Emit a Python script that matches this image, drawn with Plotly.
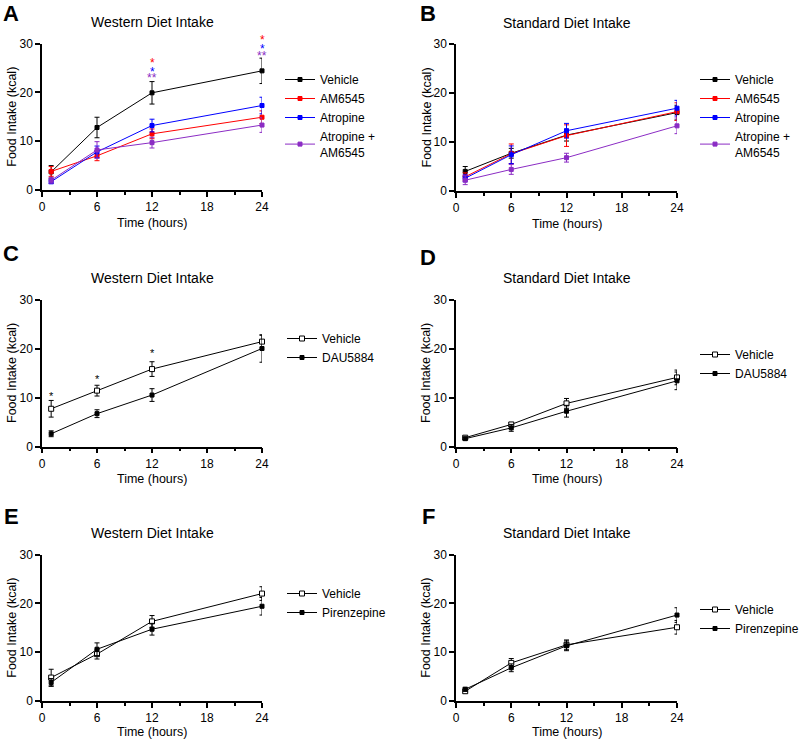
import plotly.graph_objects as go

W, H = 800, 741
FONT = 'Liberation Sans, Arial, sans-serif'

hours = [1, 6, 12, 24]
x_ticks = [0, 6, 12, 18, 24]
x_minor = [3, 9, 15, 21]
y_ticks = [0, 10, 20, 30]
y_max = 30

# A: western diet, vehicle vs blockers
a_names = ['Vehicle', 'AM6545', 'Atropine', 'Atropine +<br>AM6545']
a_vehicle = [3.7, 12.8, 19.9, 24.4]
a_am6545 = [3.8, 7.0, 11.5, 14.9]
a_atropine = [1.7, 7.8, 13.2, 17.3]
a_combo = [2.0, 8.2, 9.7, 13.3]
a_vehicle_err = [1.3, 2.1, 2.3, 2.6]
a_am6545_err = [1.0, 1.0, 1.0, 1.3]
a_atropine_err = [0.4, 1.2, 1.3, 1.7]
a_combo_err = [0.6, 1.7, 1.1, 1.5]

# B: standard diet, same groups
b_vehicle = [4.0, 7.7, 11.4, 16.0]
b_am6545 = [2.9, 7.6, 11.3, 16.2]
b_atropine = [2.6, 7.4, 12.3, 16.9]
b_combo = [2.2, 4.4, 6.8, 13.3]
b_vehicle_err = [1.0, 1.0, 1.2, 1.5]
b_am6545_err = [0.8, 2.0, 2.2, 1.8]
b_atropine_err = [0.7, 1.8, 1.5, 1.6]
b_combo_err = [0.9, 1.0, 0.9, 1.6]

# C / D: DAU5884
c_vehicle = [7.7, 11.4, 15.8, 21.4]
c_dau = [2.6, 6.7, 10.5, 20.0]
c_vehicle_err = [1.7, 1.1, 1.5, 1.3]
c_dau_err = [0.6, 0.8, 1.3, 2.8]
d_vehicle = [1.8, 4.5, 8.8, 14.1]
d_dau = [1.6, 3.8, 7.2, 13.4]
d_vehicle_err = [0.3, 0.4, 1.0, 1.5]
d_dau_err = [0.2, 0.7, 1.2, 1.8]

# E / F: pirenzepine
e_vehicle = [4.8, 9.6, 16.3, 22.0]
e_pir = [3.8, 10.6, 14.7, 19.4]
e_vehicle_err = [1.7, 1.0, 1.2, 1.4]
e_pir_err = [0.8, 1.3, 1.2, 1.8]
f_vehicle = [2.0, 7.8, 11.5, 15.1]
f_pir = [2.4, 6.8, 11.3, 17.6]
f_vehicle_err = [0.4, 0.9, 1.0, 1.4]
f_pir_err = [0.4, 0.8, 1.0, 1.5]

# significance marks
a_star_x = [12, 12, 12, 24, 24, 24]
a_star_y = [26.7, 24.8, 23.5, 31.3, 29.5, 28.0]
a_star_text = ['*', '*', '**', '*', '*', '**']
c_star_x = [1, 6, 12]
c_star_y = [10.9, 14.4, 19.7]

BLACK, RED, BLUE, PURPLE = '#000000', '#ff0000', '#0000ff', '#8b2cc4'
a_star_color = [RED, BLUE, PURPLE, RED, BLUE, PURPLE]
four_colors = [BLACK, RED, BLUE, PURPLE]

panels = [
    dict(letter='A', title='Western Diet Intake', box=(42, 43.5, 262, 190), letter_xy=(11, 14),
         series=list(zip(a_names, [a_vehicle, a_am6545, a_atropine, a_combo],
                         [a_vehicle_err, a_am6545_err, a_atropine_err, a_combo_err], four_colors,
                         [True] * 4)),
         legend_xy=(280, 116)),
    dict(letter='B', title='Standard Diet Intake', box=(456, 44, 677, 191), letter_xy=(428, 14),
         series=list(zip(a_names, [b_vehicle, b_am6545, b_atropine, b_combo],
                         [b_vehicle_err, b_am6545_err, b_atropine_err, b_combo_err], four_colors,
                         [True] * 4)),
         legend_xy=(695, 116)),
    dict(letter='C', title='Western Diet Intake', box=(42, 299.5, 262, 446.5), letter_xy=(11, 253),
         series=[('Vehicle', c_vehicle, c_vehicle_err, BLACK, False),
                 ('DAU5884', c_dau, c_dau_err, BLACK, True)],
         legend_xy=(282, 348)),
    dict(letter='D', title='Standard Diet Intake', box=(456, 299.5, 677, 446.5), letter_xy=(428, 258),
         series=[('Vehicle', d_vehicle, d_vehicle_err, BLACK, False),
                 ('DAU5884', d_dau, d_dau_err, BLACK, True)],
         legend_xy=(695, 364)),
    dict(letter='E', title='Western Diet Intake', box=(42, 554.5, 262, 701), letter_xy=(11, 516),
         series=[('Vehicle', e_vehicle, e_vehicle_err, BLACK, False),
                 ('Pirenzepine', e_pir, e_pir_err, BLACK, True)],
         legend_xy=(282, 603)),
    dict(letter='F', title='Standard Diet Intake', box=(456, 554.5, 677, 701), letter_xy=(428, 516),
         series=[('Vehicle', f_vehicle, f_vehicle_err, BLACK, False),
                 ('Pirenzepine', f_pir, f_pir_err, BLACK, True)],
         legend_xy=(695, 619)),
]


def px_x(v):
    return v / W


def px_y(v):
    return 1 - v / H


fig = go.Figure()
layout = dict(width=W, height=H, margin=dict(l=0, r=0, t=0, b=0, autoexpand=False),
              paper_bgcolor='white', plot_bgcolor='white', template='none',
              font=dict(family=FONT, size=12, color='black'), showlegend=True)
annotations = []

for i, p in enumerate(panels, start=1):
    sfx = '' if i == 1 else str(i)
    l, t, r, b = p['box']
    axis_common = dict(showline=True, linecolor='black', linewidth=1.5, ticks='outside',
                       ticklen=5, tickwidth=1.5, tickcolor='black', showgrid=False, zeroline=False,
                       automargin=False, tickfont=dict(size=12, family=FONT, color='black'),
                       fixedrange=True)
    layout['xaxis' + sfx] = dict(axis_common, domain=[px_x(l), px_x(r)], range=[0, 24],
                                 tickvals=x_ticks, anchor='y' + sfx,
                                 minor=dict(tickvals=x_minor, ticks='outside', ticklen=3,
                                            tickwidth=1.5, tickcolor='black'))
    layout['yaxis' + sfx] = dict(axis_common, domain=[px_y(b), px_y(t)], range=[0, y_max],
                                 tickvals=y_ticks, anchor='x' + sfx)
    lx, ly = p['legend_xy']
    layout['legend' + sfx] = dict(x=px_x(lx), y=px_y(ly), xanchor='left', yanchor='middle',
                                  font=dict(size=12, family=FONT, color='black'),
                                  bgcolor='rgba(0,0,0,0)', tracegroupgap=0, itemwidth=30)

    for name, mean, err, color, filled in p['series']:
        fig.add_trace(go.Scatter(
            x=hours, y=mean, name=name, mode='lines+markers',
            line=dict(color=color, width=1),
            marker=dict(symbol='square', size=4 if filled else 5,
                        color=color if filled else 'white', line=dict(color=color, width=1)),
            error_y=dict(type='data', array=err, color=color, thickness=1, width=2.5),
            xaxis='x' + sfx, yaxis='y' + sfx, legend='legend' + sfx, cliponaxis=False))

    cx = (l + r) / 2
    annotations += [
        dict(text=p['title'], x=px_x(cx), y=px_y(t - 21.5), xref='paper', yref='paper',
             showarrow=False, xanchor='center', yanchor='middle', font=dict(size=14)),
        dict(text='Time (hours)', x=px_x(cx), y=px_y(min(b + 32.5, 732)), xref='paper',
             yref='paper', showarrow=False, xanchor='center', yanchor='middle',
             font=dict(size=12.5)),
        dict(text='Food Intake (kcal)', x=px_x(l - 30), y=px_y((t + b) / 2), xref='paper',
             yref='paper', showarrow=False, textangle=-90, xanchor='center', yanchor='middle',
             font=dict(size=12.5)),
        dict(text='<b>%s</b>' % p['letter'], x=px_x(p['letter_xy'][0]), y=px_y(p['letter_xy'][1]),
             xref='paper', yref='paper', showarrow=False, xanchor='center', yanchor='middle',
             font=dict(size=22)),
    ]

# stars are placed in axis-domain units so the ones above the top tick still show
for sx, sy, st, sc in zip(a_star_x, a_star_y, a_star_text, a_star_color):
    annotations.append(dict(text=st, x=sx, y=sy / y_max, xref='x', yref='y domain',
                            xanchor='center', yanchor='middle', showarrow=False, yshift=-3,
                            font=dict(size=12, color=sc)))
for sx, sy in zip(c_star_x, c_star_y):
    annotations.append(dict(text='*', x=sx, y=sy / y_max, xref='x3', yref='y3 domain',
                            xanchor='center', yanchor='middle', showarrow=False, yshift=-3,
                            font=dict(size=11, color=BLACK)))

layout['annotations'] = annotations
fig.update_layout(**layout)
fig.write_html('out.html', config={'displayModeBar': False},
               post_script="document.body.style.margin='0';")
